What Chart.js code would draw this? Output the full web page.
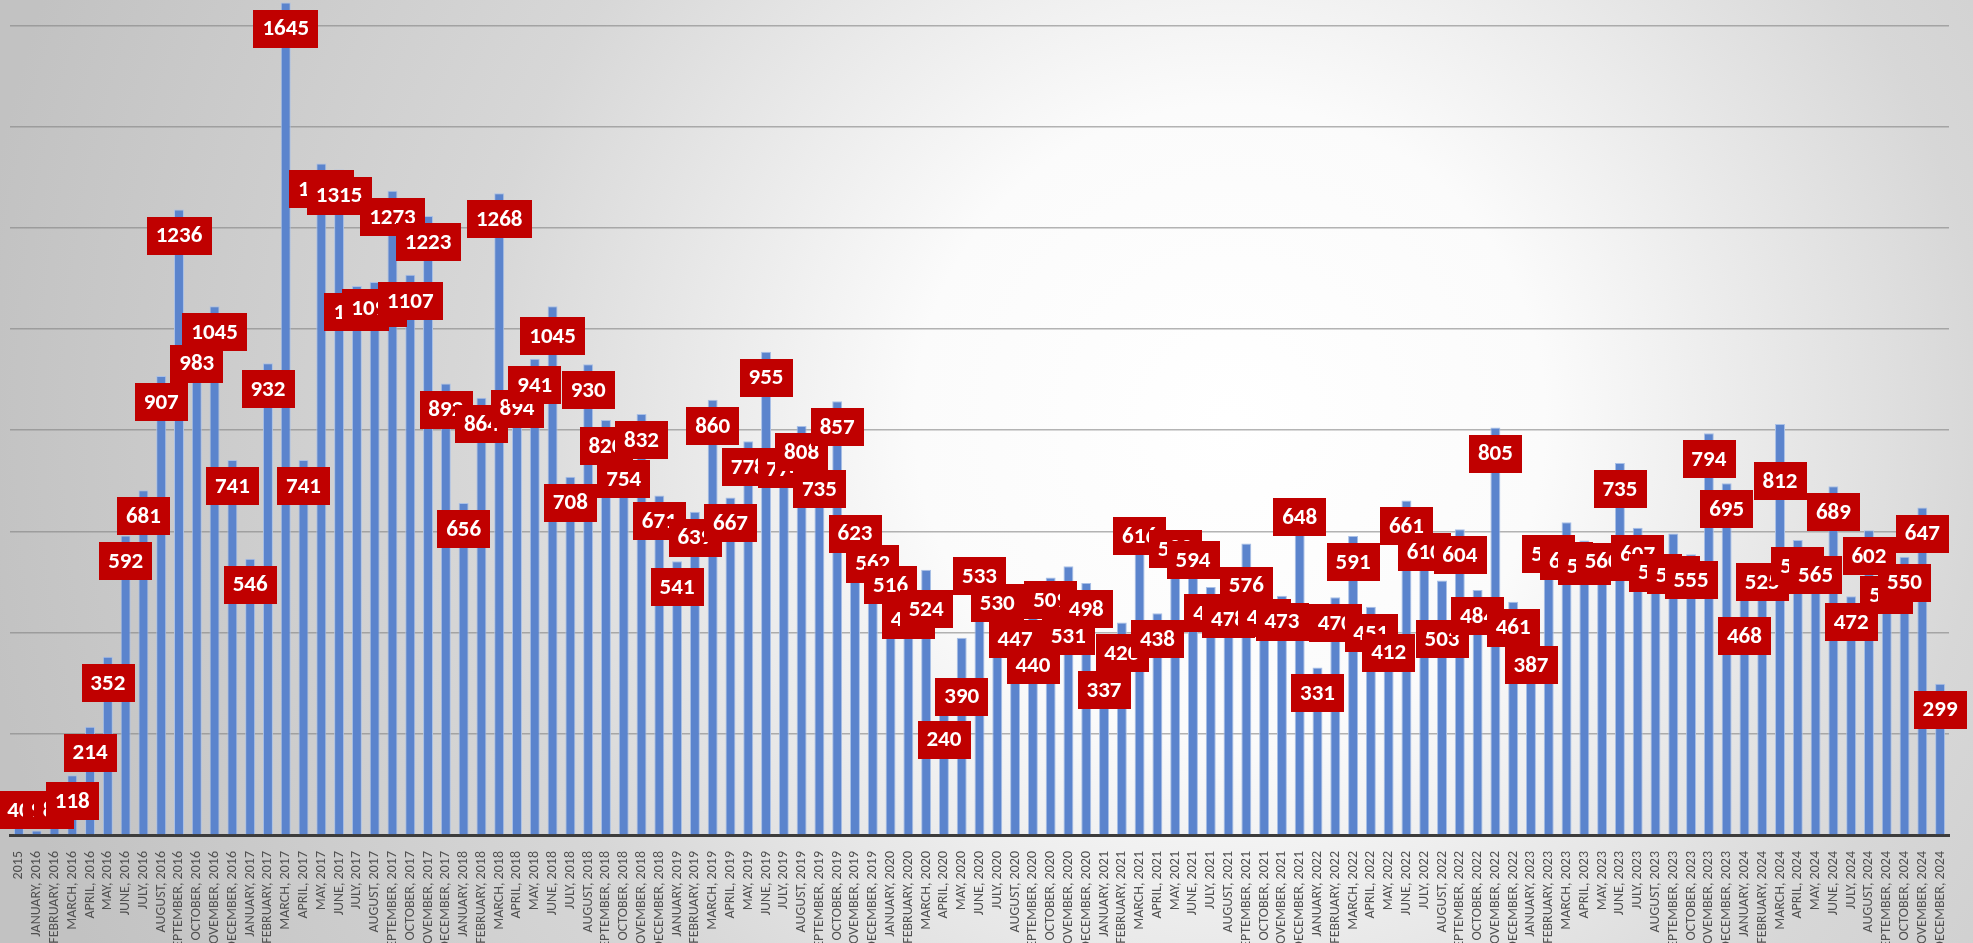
<!DOCTYPE html>
<html>
<head>
<meta charset="utf-8">
<script src="https://cdn.jsdelivr.net/npm/chart.js@4.4.1/dist/chart.umd.min.js"></script>
<style>
    html, body { margin: 0; padding: 0; overflow: hidden; background: #d4d4d4; }
    #wrap { width: 1973px; height: 943px; }
</style>
</head>
<body>
<div id="wrap"><canvas id="monthlyChart" width="1973" height="943"></canvas></div>
<script>
const monthNames = ["JANUARY", "FEBRUARY", "MARCH", "APRIL", "MAY", "JUNE",
    "JULY", "AUGUST", "SEPTEMBER", "OCTOBER", "NOVEMBER", "DECEMBER"];
const years = [2016, 2017, 2018, 2019, 2020, 2021, 2022, 2023, 2024];
const firstLabel = "2015";

// one value per month, Dec 2015 .. Dec 2024
const counts = [
    40,
    9, 84, 118, 214, 352, 592, 681, 907, 1236, 983, 1045, 741,
    546, 932, 1645, 741, 1327, 1315, 1085, 1093, 1273, 1107, 1223, 892,
    656, 864, 1268, 894, 941, 1045, 708, 930, 820, 754, 832, 671,
    541, 639, 860, 667, 778, 955, 774, 808, 735, 857, 623, 562,
    516, 477, 524, 240, 390, 533, 530, 447, 440, 509, 531, 498,
    337, 420, 616, 438, 588, 594, 490, 478, 576, 481, 473, 648,
    331, 470, 591, 451, 412, 661, 610, 503, 604, 484, 805, 461,
    387, 578, 618, 582, 560, 735, 607, 570, 596, 555, 794, 695,
    468, 525, 812, 583, 565, 689, 472, 602, 545, 550, 647, 299
];

const labels = [firstLabel];
years.forEach(y => {
    monthNames.forEach(m => labels.push(m + ", " + y));
});

// a few labels were dragged by hand in the original (index -> px down)
const labelNudge = {
    30: 4, 47: -12, 48: -13, 49: -15, 51: 13, 53: 33, 54: -15, 55: 10,
    56: 4, 57: 27, 58: -3, 59: 44, 62: 5, 63: -13, 65: -14, 69: 16,
    72: -16, 80: 33, 86: -14, 87: 13, 89: -16, 93: 16, 97: 12, 98: -13,
    99: 31, 105: 10
};

// radial grey-white backdrop, like the office chart style
const backdrop = {
    id: "backdrop",
    beforeDraw(chart) {
        const ctx = chart.ctx;
        const g = ctx.createRadialGradient(1230, 420, 0, 1230, 420, 1260);
        g.addColorStop(0, "#ffffff");
        g.addColorStop(0.25, "#fbfbfb");
        g.addColorStop(0.6, "#d7d7d7");
        g.addColorStop(1, "#c2c2c2");
        ctx.save();
        ctx.fillStyle = g;
        ctx.fillRect(0, 0, chart.width, chart.height);
        ctx.restore();
    }
};

// red value boxes at the inner end of each bar
const boxLabels = {
    id: "boxLabels",
    afterDatasetsDraw(chart) {
        const ctx = chart.ctx;
        const meta = chart.getDatasetMeta(0);
        const bottom = chart.chartArea.bottom;
        ctx.save();
        ctx.font = "bold 23px Carlito, Lato, sans-serif";
        ctx.textAlign = "center";
        ctx.textBaseline = "middle";
        meta.data.forEach((bar, i) => {
            const txt = String(counts[i]);
            const w = txt.length * 12.2 + 16;
            const h = 38;
            let top = bar.y + 7 + (labelNudge[i] || 0);
            if (top + h > bottom - 6) top = bottom - 6 - h;
            ctx.fillStyle = "#c00000";
            ctx.fillRect(Math.round(bar.x - w / 2), Math.round(top), Math.round(w), h);
            ctx.fillStyle = "#ffffff";
            ctx.fillText(txt, bar.x, top + h / 2 + 1);
        });
        ctx.restore();
    }
};

const ctx = document.getElementById("monthlyChart").getContext("2d");
new Chart(ctx, {
    type: "bar",
    data: {
        labels: labels,
        datasets: [{
            data: counts,
            backgroundColor: "#5b84cd",
            borderColor: "#a9c0e6",
            borderWidth: 1,
            barPercentage: 0.56,
            categoryPercentage: 1
        }]
    },
    options: {
        responsive: false,
        animation: false,
        layout: { padding: { left: 10, right: 24, top: 0, bottom: 0 } },
        plugins: {
            legend: { display: false },
            tooltip: { enabled: false }
        },
        scales: {
            x: {
                offset: true,
                grid: { display: false },
                border: { color: "#3c3c3c", width: 3 },
                ticks: {
                    autoSkip: false,
                    minRotation: 90,
                    maxRotation: 90,
                    padding: 8,
                    color: "#505050",
                    font: { family: "Carlito, Lato, sans-serif", size: 14 }
                },
                afterFit: s => { s.height = 108; }
            },
            y: {
                min: 0,
                max: 1650,
                ticks: { display: false, stepSize: 200 },
                grid: { color: "rgba(130,130,130,0.6)", lineWidth: 1.5, drawTicks: false },
                border: { display: false },
                afterFit: s => { s.width = 0; },
                afterBuildTicks: s => { s.ticks = s.ticks.filter(t => t.value % 200 === 0); }
            }
        }
    },
    plugins: [backdrop, boxLabels]
});
</script>
</body>
</html>
